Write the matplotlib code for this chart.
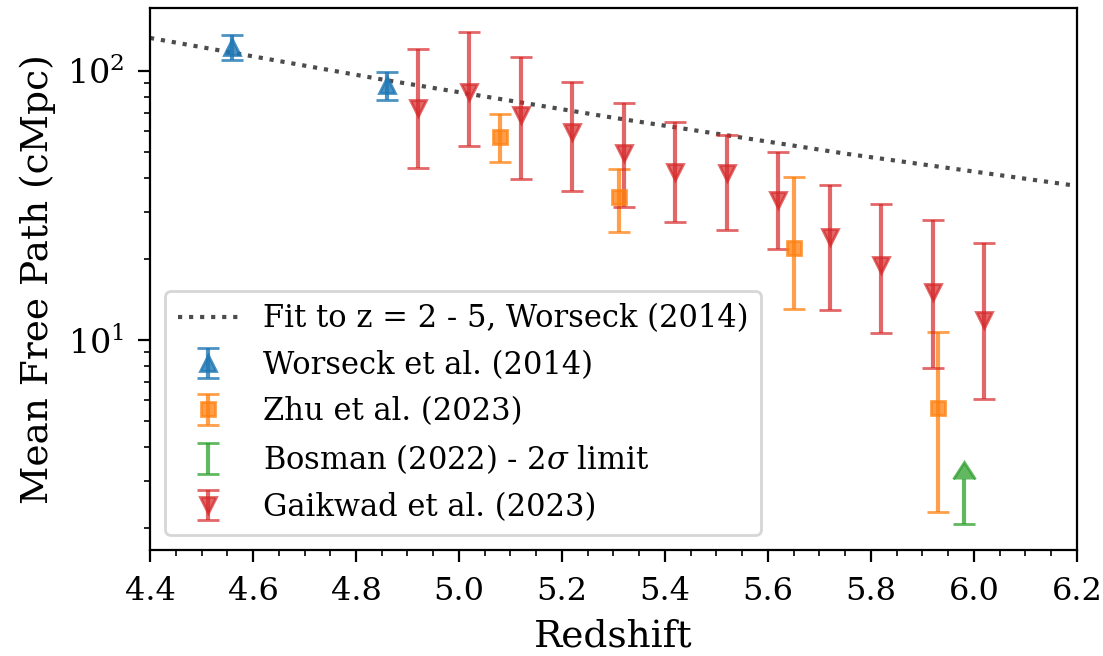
"""Mean free path of ionising photons vs redshift, with literature measurements."""

import matplotlib

matplotlib.use("Agg")
import matplotlib.pyplot as plt

# Fit to z = 2 - 5 (Worseck 2014)
fit_z = [4.4, 4.85, 5.3, 5.75, 6.2]
fit_mfp = [132.6, 93.0, 67.0, 49.3, 37.4]

# Worseck et al. (2014)
worseck_z = [4.56, 4.86]
worseck_mfp = [123.0, 88.5]
worseck_err = [12.8, 10.5]

# Zhu et al. (2023)
zhu_z = [5.08, 5.31, 5.65, 5.93]
zhu_mfp = [56.7, 34.1, 22.0, 5.6]
zhu_lo = [10.9, 8.8, 8.9, 3.3]
zhu_hi = [12.5, 9.3, 18.2, 5.1]

# Bosman (2022) 2-sigma lower limit
bosman_z = [5.98]
bosman_mfp = [2.07]
bosman_arrow = [0.97]

# Gaikwad et al. (2023)
gaikwad_z = [4.92, 5.02, 5.12, 5.22, 5.32, 5.42, 5.52, 5.62, 5.72, 5.82, 5.92, 6.02]
gaikwad_mfp = [72.9, 83.5, 68.6, 59.3, 49.5, 42.1, 41.7, 33.2, 24.2, 19.0, 15.1, 11.9]
gaikwad_upper = [120.7, 139.7, 112.7, 91.0, 76.1, 64.6, 57.8, 50.0, 37.7, 32.0, 27.9, 23.0]
gaikwad_lower = [43.6, 52.6, 39.7, 35.8, 31.2, 27.5, 25.6, 21.8, 12.9, 10.6, 7.87, 6.04]

plt.rcParams["font.family"] = "DejaVu Serif"
plt.rcParams["mathtext.fontset"] = "dejavuserif"

fig, ax = plt.subplots(figsize=(5.515, 3.28), dpi=200)
fig.subplots_adjust(left=0.136, right=0.9764, top=0.988, bottom=0.1615)

ax.plot(fit_z, fit_mfp, ":", color="k", alpha=0.7, lw=1.5,
        label="Fit to z = 2 - 5, Worseck (2014)")

ax.errorbar(worseck_z, worseck_mfp, yerr=worseck_err, fmt="^", ms=5.5,
            color="tab:blue", alpha=0.8, capsize=4,
            label="Worseck et al. (2014)")

zhu_yerr = [zhu_lo, zhu_hi]
ax.errorbar(zhu_z, zhu_mfp, yerr=zhu_yerr, fmt="s", ms=4.7,
            color="tab:orange", alpha=0.75, capsize=4,
            label="Zhu et al. (2023)")

ax.errorbar(bosman_z, bosman_mfp, yerr=bosman_arrow, lolims=True, fmt="none",
            color="tab:green", alpha=0.75, capsize=4,
            label=r"Bosman (2022) - 2$\sigma$ limit")

g_yerr = [[m - lo for m, lo in zip(gaikwad_mfp, gaikwad_lower)],
          [hi - m for m, hi in zip(gaikwad_mfp, gaikwad_upper)]]
ax.errorbar(gaikwad_z, gaikwad_mfp, yerr=g_yerr, fmt="v", ms=5.5,
            color="tab:red", alpha=0.7, capsize=4,
            label="Gaikwad et al. (2023)")

ax.set_yscale("log")
ax.set_xlim(4.4, 6.2)
ax.set_ylim(1.66, 171.5)
ax.minorticks_on()
ax.tick_params(which="major", length=4.3, pad=5)
ax.tick_params(which="minor", length=2.2)
ax.tick_params(axis="x", which="major", labelsize=11.5)
ax.tick_params(axis="y", which="major", labelsize=12)
ax.set_xlabel("Redshift", fontsize=13.5)
ax.set_ylabel("Mean Free Path (cMpc)", fontsize=13.5)
ax.legend(loc="lower left", fontsize=11)

fig.savefig("out.png", dpi=200)
